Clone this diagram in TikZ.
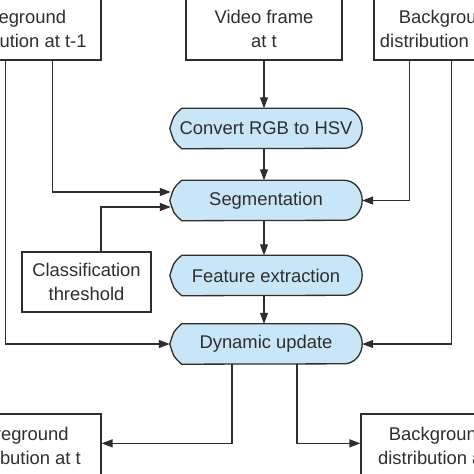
\documentclass[tikz,border=0pt]{standalone}
\usepackage{fontspec}
\setmainfont{Liberation Sans}
\usetikzlibrary{arrows.meta,backgrounds,calc}
\definecolor{ln}{HTML}{2E2E2E}
\definecolor{pf}{HTML}{C8E6F8}
\tikzset{
 txt/.style={text=ln, font=\fontsize{18.4}{23.5}\selectfont},
 box/.style={txt, draw=ln, line width=1.3pt, rectangle, align=center, inner sep=0pt},
 proc/.style={txt, rectangle, minimum width=192pt, minimum height=40pt, inner sep=0pt},
 arr/.style={draw=ln, line width=1.3pt, -{Triangle[length=11pt,width=8pt]}},
 pshape/.style={fill=pf, draw=ln, line width=1.3pt}
}
\begin{document}
\begin{tikzpicture}[x=1pt,y=-1pt]
\useasboundingbox (0,0) rectangle (474,474);
\clip (0,0) rectangle (474,474);
% input boxes
\node[box, minimum width=165pt, minimum height=62pt] (fgp) at (18.5,29) {Foreground\\distribution at t-1};
\node[box, minimum width=156pt, minimum height=62pt] (vid) at (264,29) {Video frame\\at t};
\node[box, minimum width=148pt, minimum height=62pt] (bgp) at (448,29) {Background\\distribution at t-1};
\node[box, minimum width=129pt, minimum height=60pt] (cls) at (86.5,282) {Classification\\threshold};
% process nodes
\node[proc] (cvt) at (266,128.5) {Convert RGB to HSV};
\node[proc] (seg) at (266,200.5) {Segmentation};
\node[proc] (fea) at (266,275.5) {Feature extraction};
\node[proc] (dyn) at (266,344) {Dynamic update};
% output boxes
\node[box, minimum width=160pt, minimum height=64pt] (fgc) at (21,446) {Foreground\\distribution at t};
\node[box, minimum width=154pt, minimum height=64pt] (bgc) at (438,446) {Background\\distribution at t};
\begin{scope}[on background layer]
\foreach \n in {cvt,seg,fea,dyn}{
 \path[pshape] ($(\n.north west)+(12,0)$) -- ($(\n.north east)+(-18,0)$)
   arc[start angle=90, end angle=-90, x radius=18pt, y radius=20pt]
   -- ($(\n.south west)+(12,0)$)
   .. controls ($(\n.south west)+(4,-7)$) .. (\n.west)
   .. controls ($(\n.north west)+(4,7)$) .. cycle;
}
\end{scope}
% main spine
\draw[arr] (vid.south) -- (vid.south |- cvt.north);
\draw[arr] (vid.south |- cvt.south) -- (vid.south |- seg.north);
\draw[arr] (vid.south |- seg.south) -- (vid.south |- fea.north);
\draw[arr] (vid.south |- fea.south) -- (vid.south |- dyn.north);
% side inputs
\draw[arr] ($(fgp.south east)+(-49,0)$) |- ($(seg.west)+(1,-8.5)$);
\draw[arr] ($(cls.north)+(14.5,0)$) |- ($(seg.west)+(1,6.5)$);
\draw[arr] ($(fgp.south east)+(-96,0)$) |- (dyn.west);
\draw[arr] ($(bgp.south west)+(36,0)$) |- (seg.east);
\draw[arr] ($(bgp.south west)+(78,0)$) |- (dyn.east);
% outputs
\draw[arr] ($(dyn.south)+(-34,0)$) |- ($(fgc.north east)+(0,30)$);
\draw[arr] ($(dyn.south)+(31,0)$) |- ($(bgc.north west)+(0,30)$);
\end{tikzpicture}
\end{document}
